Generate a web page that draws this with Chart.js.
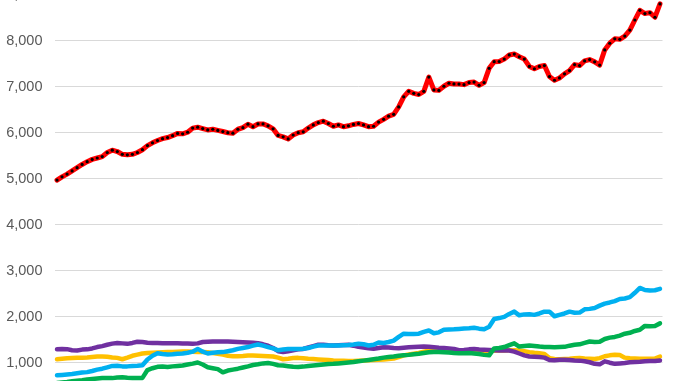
<!DOCTYPE html>
<html><head><meta charset="utf-8">
<script src="https://cdn.jsdelivr.net/npm/chart.js@4"></script>
<style>
html,body{margin:0;padding:0;width:678px;height:381px;overflow:hidden;background:#fff;}
#wrap{position:absolute;left:0;top:-30px;width:678px;height:460px;}
</style></head><body>
<div id="wrap"><canvas id="c"></canvas></div>
<script>
const totalSeries = [4970,5040,5100,5170,5240,5310,5370,5420,5450,5480,5570,5620,5590,5530,5520,5530,5570,5630,5720,5780,
5830,5870,5895,5935,5985,5975,6010,6100,6120,6090,6060,6075,6050,6025,6000,5990,6075,6110,6185,6130,
6190,6190,6150,6085,5940,5910,5865,5950,6000,6020,6100,6170,6220,6250,6200,6140,6170,6130,6150,6180,
6200,6170,6130,6140,6230,6290,6360,6400,6560,6780,6900,6855,6830,6900,7210,6930,6920,7010,7075,7060,
7058,7045,7090,7100,7030,7090,7400,7545,7548,7600,7690,7710,7650,7600,7440,7390,7440,7460,7220,7140,
7190,7280,7350,7480,7460,7560,7590,7540,7470,7800,7945,8040,8030,8100,8230,8450,8660,8590,8610,8510,8800];
const blueSeries = [725,735,745,755,770,785,795,820,850,870,900,930,935,920,920,930,935,945,1070,1150,
1205,1190,1180,1185,1195,1200,1215,1240,1300,1240,1200,1215,1225,1230,1250,1270,1300,1320,1340,1370,
1395,1370,1340,1310,1270,1285,1300,1300,1300,1305,1320,1350,1375,1375,1375,1375,1375,1380,1385,1395,
1410,1400,1375,1390,1440,1430,1450,1480,1560,1630,1625,1625,1630,1670,1700,1640,1660,1715,1720,1725,
1735,1745,1750,1760,1740,1725,1780,1950,1970,1995,2060,2110,2030,2050,2055,2040,2070,2110,2110,2010,
2040,2070,2110,2085,2090,2160,2170,2190,2240,2285,2310,2340,2385,2395,2425,2520,2625,2580,2570,2575,2605];
const greenSeries = [560,570,580,595,610,620,635,645,655,665,665,665,680,685,675,670,665,670,840,880,
910,915,905,920,930,940,960,980,1005,960,900,880,860,790,830,850,870,895,920,950,
965,985,995,975,945,940,925,910,905,915,930,940,950,960,970,975,985,995,1005,1015,
1030,1045,1060,1075,1090,1110,1125,1135,1150,1160,1170,1185,1195,1210,1225,1230,1230,1225,1220,1210,
1205,1205,1210,1200,1190,1170,1160,1310,1320,1340,1380,1420,1350,1365,1375,1365,1350,1340,1340,1335,
1340,1345,1370,1390,1400,1430,1460,1450,1455,1515,1545,1560,1590,1630,1650,1690,1715,1800,1790,1800,1855];
const yellowSeries = [1075,1085,1095,1100,1105,1110,1115,1125,1135,1135,1130,1115,1105,1075,1110,1150,1175,1200,1210,1215,
1220,1225,1230,1235,1240,1245,1245,1240,1235,1230,1225,1210,1195,1175,1150,1140,1140,1145,1155,1155,
1150,1145,1140,1135,1110,1075,1085,1100,1105,1095,1085,1080,1072,1065,1060,1050,1045,1040,1035,1038,
1045,1050,1055,1060,1065,1070,1080,1090,1120,1160,1180,1195,1210,1240,1260,1260,1255,1250,1245,1240,
1245,1245,1245,1245,1245,1250,1255,1260,1265,1265,1270,1270,1265,1250,1230,1215,1205,1190,1100,1080,
1075,1080,1085,1095,1100,1090,1085,1080,1100,1140,1160,1175,1165,1110,1095,1090,1085,1085,1085,1090,1135];
const purpleSeries = [1290,1300,1295,1270,1265,1285,1290,1310,1340,1360,1390,1415,1430,1420,1410,1430,1455,1450,1435,1430,
1430,1425,1425,1425,1425,1420,1415,1410,1420,1450,1455,1460,1460,1460,1460,1455,1450,1445,1440,1435,
1425,1400,1370,1320,1250,1230,1250,1270,1290,1300,1330,1360,1390,1390,1380,1375,1380,1385,1390,1370,
1345,1330,1315,1305,1320,1335,1330,1320,1315,1325,1335,1340,1345,1350,1345,1335,1325,1320,1310,1300,
1270,1275,1290,1300,1285,1280,1275,1270,1265,1270,1265,1240,1200,1160,1135,1130,1125,1110,1060,1055,
1065,1062,1060,1050,1045,1030,1010,975,965,1030,1000,975,985,995,1010,1015,1020,1030,1035,1035,1050];
const yTicks = [0,1000,2000,3000,4000,5000,6000,7000,8000,9000];
const categories = totalSeries.map((_, i) => 'P' + (i + 1));

const lineBase = {pointRadius:0, borderJoinStyle:'round', borderCapStyle:'round', tension:0, fill:false};
new Chart(document.getElementById('c'), {
  type:'line',
  data:{
    labels: categories,
    datasets:[
      Object.assign({}, lineBase, {label:'Green', data:greenSeries, borderColor:'#00b050', borderWidth:4.5, order:1}),
      Object.assign({}, lineBase, {label:'Blue', data:blueSeries, borderColor:'#00b0f0', borderWidth:4.5, order:2}),
      Object.assign({}, lineBase, {label:'Purple', data:purpleSeries, borderColor:'#7030a0', borderWidth:4.5, order:3}),
      Object.assign({}, lineBase, {label:'Yellow', data:yellowSeries, borderColor:'#ffc000', borderWidth:4.5, order:4}),
      Object.assign({}, lineBase, {label:'Total', data:totalSeries, borderColor:'#ff0000', borderWidth:5, order:0,
        pointRadius:1.6, pointBackgroundColor:'#000', pointBorderWidth:0, pointHoverRadius:1.6})
    ]
  },
  options:{
    responsive:true, maintainAspectRatio:false, animation:false, devicePixelRatio:1,
    layout:{padding:{left:0,right:15.5,top:24.7,bottom:21.3}},
    plugins:{legend:{display:false}, tooltip:{enabled:false}},
    scales:{
      x:{type:'category', offset:true, display:false},
      y:{min:0, max:9000,
         afterBuildTicks: s => { s.ticks = yTicks.map(v => ({value:v})); },
         afterFit: s => { s.width = 54.5; },
         ticks:{padding:12, color:'#595959', font:{family:'Liberation Sans', size:14.5},
                callback: v => Number(v).toLocaleString('en-US')},
         grid:{color:'#d9d9d9', lineWidth:1, drawTicks:false},
         border:{display:false}}
    }
  }
});
</script>
</body></html>
